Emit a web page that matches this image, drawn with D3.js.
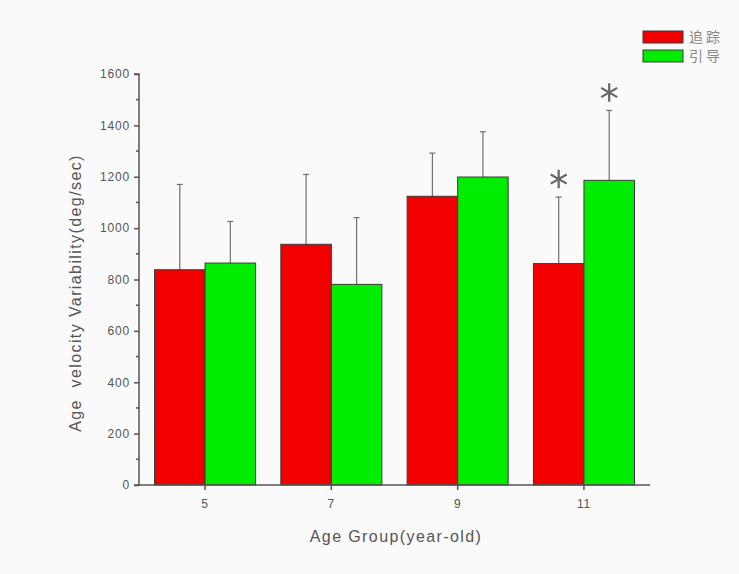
<!DOCTYPE html>
<html>
<head>
<meta charset="utf-8">
<script src="https://cdn.jsdelivr.net/npm/d3@7"></script>
<style>
  body { margin: 0; background: #fafafa; }
  svg { font-family: "Liberation Sans", Arial, sans-serif; }
</style>
</head>
<body>
<div id="chart"></div>
<script>
const categories = ['5', '7', '9', '11']
const seriesNames = ['追踪', '引导']
const trackMean = [838, 937, 1124, 862]
const trackErr = [332, 272, 168, 259]
const guideMean = [864, 781, 1199, 1186]
const guideErr = [162, 260, 176, 272]
const significant = [[false, false], [false, false], [false, false], [true, true]]
const yTicks = [0, 200, 400, 600, 800, 1000, 1200, 1400, 1600]

const width = 739, height = 574
const margin = { top: 74, right: 89, bottom: 89, left: 139 }
const colors = ['#f20000', '#00ec00']

const data = categories.map((c, i) => ({
  cat: c,
  vals: [
    { s: 0, mean: trackMean[i], err: trackErr[i], sig: significant[i][0] },
    { s: 1, mean: guideMean[i], err: guideErr[i], sig: significant[i][1] }
  ]
}))

const svg = d3.select('#chart').append('svg')
  .attr('width', width)
  .attr('height', height)

const x = d3.scaleBand()
  .domain(categories)
  .range([margin.left, width - margin.right])
  .paddingInner(0.2)
  .paddingOuter(0.123)

const xs = d3.scaleBand()
  .domain([0, 1])
  .range([0, x.bandwidth()])

const y = d3.scaleLinear()
  .domain([0, 1600])
  .range([height - margin.bottom, margin.top])

// bars
const groups = svg.selectAll('g.grp')
  .data(data)
  .enter()
  .append('g')
  .attr('class', 'grp')
  .attr('transform', d => 'translate(' + x(d.cat) + ',0)')

// error bars (upper only)
groups.selectAll('line.err')
  .data(d => d.vals)
  .enter()
  .append('line')
  .attr('x1', d => xs(d.s) + xs.bandwidth() / 2)
  .attr('x2', d => xs(d.s) + xs.bandwidth() / 2)
  .attr('y1', d => y(d.mean))
  .attr('y2', d => y(d.mean + d.err))
  .attr('stroke', '#707070')
  .attr('stroke-width', 1.2)

groups.selectAll('line.cap')
  .data(d => d.vals)
  .enter()
  .append('line')
  .attr('x1', d => xs(d.s) + xs.bandwidth() / 2 - 3)
  .attr('x2', d => xs(d.s) + xs.bandwidth() / 2 + 3)
  .attr('y1', d => y(d.mean + d.err))
  .attr('y2', d => y(d.mean + d.err))
  .attr('stroke', '#707070')
  .attr('stroke-width', 1.2)

groups.selectAll('rect')
  .data(d => d.vals)
  .enter()
  .append('rect')
  .attr('x', d => xs(d.s))
  .attr('y', d => y(d.mean))
  .attr('width', xs.bandwidth())
  .attr('height', d => y(0) - y(d.mean))
  .attr('fill', d => colors[d.s])
  .attr('stroke', '#3a3a3a')
  .attr('stroke-width', 1)

// significance marks
const star = d3.symbol().type(d3.symbolAsterisk).size(240)
groups.selectAll('path.sig')
  .data(d => d.vals.filter(v => v.sig))
  .enter()
  .append('path')
  .attr('d', star)
  .attr('transform', d => 'translate(' + (xs(d.s) + xs.bandwidth() / 2) + ',' + (y(d.mean + d.err) - 18) + ')')
  .attr('fill', 'none')
  .attr('stroke', '#666')
  .attr('stroke-width', 2.2)

// axes
const yAxis = d3.axisLeft(y).tickValues(yTicks).tickFormat(d3.format('d')).tickSize(5).tickPadding(4)
const gy = svg.append('g')
  .attr('transform', 'translate(' + margin.left + ',0)')
  .call(yAxis)
gy.selectAll('text').attr('font-size', 12).attr('letter-spacing', 0.8).attr('fill', '#555')
gy.selectAll('line, path').attr('stroke', '#555').attr('stroke-width', 1.5)
gy.select('.domain').attr('d', 'M-5,' + y(1600) + 'H0V' + y(0) + 'H-5')

// minor ticks
svg.append('g')
  .selectAll('line')
  .data(d3.range(100, 1600, 200))
  .enter()
  .append('line')
  .attr('x1', margin.left - 3)
  .attr('x2', margin.left)
  .attr('y1', d => y(d))
  .attr('y2', d => y(d))
  .attr('stroke', '#555')
  .attr('stroke-width', 1.5)

const xAxis = d3.axisBottom(x).tickSize(5).tickPadding(9)
const gx = svg.append('g')
  .attr('transform', 'translate(0,' + y(0) + ')')
  .call(xAxis)
gx.selectAll('text').attr('font-size', 12).attr('letter-spacing', 0.8).attr('fill', '#555')
gx.selectAll('line, path').attr('stroke', '#555').attr('stroke-width', 1.5)
gx.select('.domain').attr('d', 'M' + margin.left + ',0H' + (width - margin.right))

// axis titles
svg.append('text')
  .attr('x', 396)
  .attr('y', 542)
  .attr('text-anchor', 'middle')
  .attr('font-size', 16)
  .attr('letter-spacing', 1.4)
  .attr('fill', '#555')
  .text('Age Group(year-old)')

svg.append('text')
  .attr('transform', 'translate(81,293) rotate(-90)')
  .attr('text-anchor', 'middle')
  .attr('font-size', 16)
  .attr('letter-spacing', 1.4)
  .attr('fill', '#555')
  .style('white-space', 'pre')
  .text('Age  velocity Variability(deg/sec)')

// legend
const legend = svg.append('g')
  .selectAll('g')
  .data(seriesNames)
  .enter()
  .append('g')
  .attr('transform', (d, i) => 'translate(643,' + (31 + i * 19) + ')')

legend.append('rect')
  .attr('width', 40)
  .attr('height', 12)
  .attr('fill', (d, i) => colors[i])
  .attr('stroke', '#3a3a3a')
  .attr('stroke-width', 1)

legend.append('text')
  .attr('x', 46)
  .attr('y', 11)
  .attr('font-size', 14)
  .attr('letter-spacing', 3)
  .attr('font-family', '"Noto Sans CJK SC", sans-serif')
  .attr('fill', '#888')
  .text(d => d)
</script>
</body>
</html>
